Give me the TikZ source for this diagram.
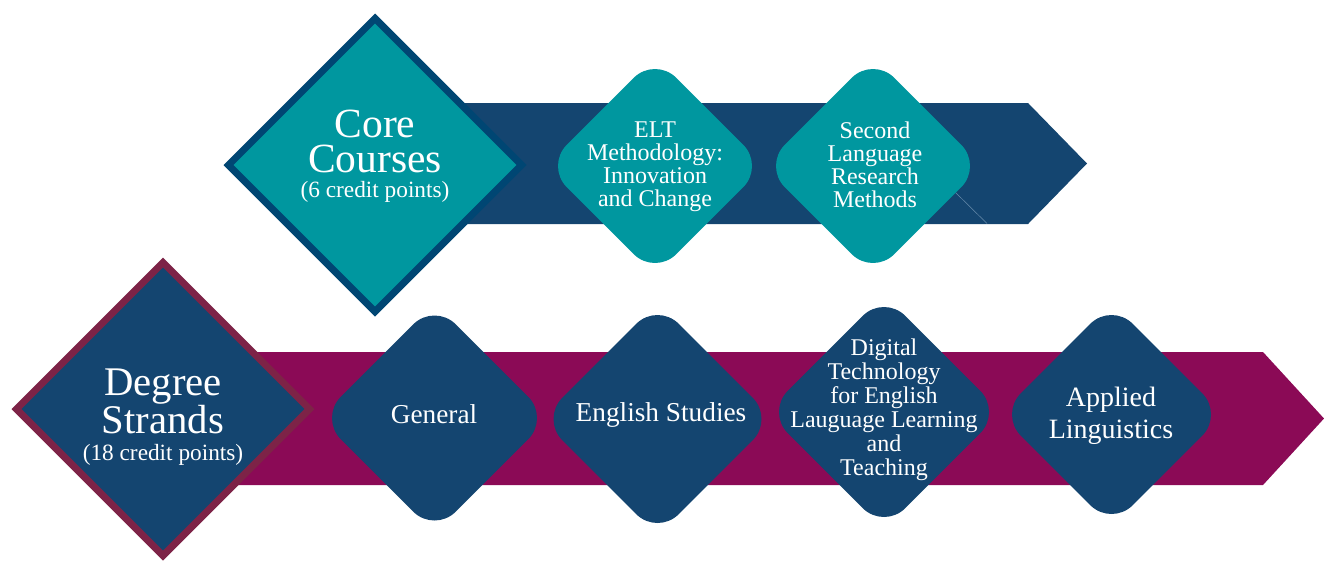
\documentclass[tikz,border=0pt]{standalone}
\usepackage{fontspec}
\setmainfont{Liberation Serif}
\usetikzlibrary{shapes.geometric}
\definecolor{navy}{RGB}{20,69,112}
\definecolor{tealc}{RGB}{0,151,159}
\definecolor{coreborder}{RGB}{0,70,115}
\definecolor{magentac}{RGB}{139,10,86}
\definecolor{maroonc}{RGB}{125,35,71}
\definecolor{faint}{RGB}{105,140,172}
\begin{document}
\begin{tikzpicture}[x=1pt,y=-1pt,
  bigdia/.style={diamond, aspect=1, minimum width=296pt, minimum height=296pt, inner sep=0pt, line width=7pt},
  rdia/.style={diamond, aspect=1, minimum width=#1, minimum height=#1, inner sep=0pt, rounded corners=30pt, draw=none},
  txt/.style={text=white, align=center, inner sep=0pt},
]
\useasboundingbox (0,0) rectangle (1324,560);
% top band
\fill[navy] (420,103) -- (1028,103) -- (1087,163.5) -- (1028,224) -- (420,224) -- cycle;
\draw[faint, line width=0.5pt] (955,192) -- (987,223.5);
% top small diamonds
\node[rdia=219pt, fill=tealc] (elt) at (655,166) {};
\node[rdia=219pt, fill=tealc] (slr) at (873,166) {};
\node[txt, font=\fontsize{24}{23}\selectfont] (eltt) at (655,167) {ELT\\Methodology:\\Innovation\\and Change};
\node[txt, font=\fontsize{24}{23}\selectfont] (slrt) at (875,165) {Second\\Language\\Research\\Methods};
% core diamond
\node[bigdia, fill=tealc, draw=coreborder] (core) at (375,165) {};
\node[txt, font=\fontsize{41.5}{35}\selectfont] (coret) at (375,156) {Core\\Courses\\[-10pt]{\fontsize{23.3}{26}\selectfont (6 credit points)}};
% bottom band
\fill[magentac] (200,352) -- (1263,352) -- (1324,418.5) -- (1263,485) -- (200,485) -- cycle;
% bottom small diamonds
\node[rdia=230pt, fill=navy] (gen) at (434.5,418) {};
\node[rdia=233pt, fill=navy] (eng) at (657.5,419) {};
\node[rdia=235pt, fill=navy] (dig) at (884,412) {};
\node[rdia=224pt, fill=navy] (app) at (1111.5,414.5) {};
\node[txt, font=\fontsize{27.3}{30}\selectfont] (gent) at (434,413.7) {General};
\node[txt, font=\fontsize{27.3}{30}\selectfont] (engt) at (661,414.6) {English Studies};
\node[txt, font=\fontsize{24}{24}\selectfont] (digt) at (884,410) {Digital\\Technology\\for English\\Lauguage Learning\\and\\Teaching};
\node[txt, font=\fontsize{28}{32}\selectfont] (appt) at (1111,415.5) {Applied\\Linguistics};
% degree diamond
\node[bigdia, fill=navy, draw=maroonc] (deg) at (163,409) {};
\node[txt, font=\fontsize{40.7}{35}\selectfont] (degt) at (163,417) {Degree\\Strands\\[-8pt]{\fontsize{23.3}{26}\selectfont (18 credit points)}};
\end{tikzpicture}
\end{document}
